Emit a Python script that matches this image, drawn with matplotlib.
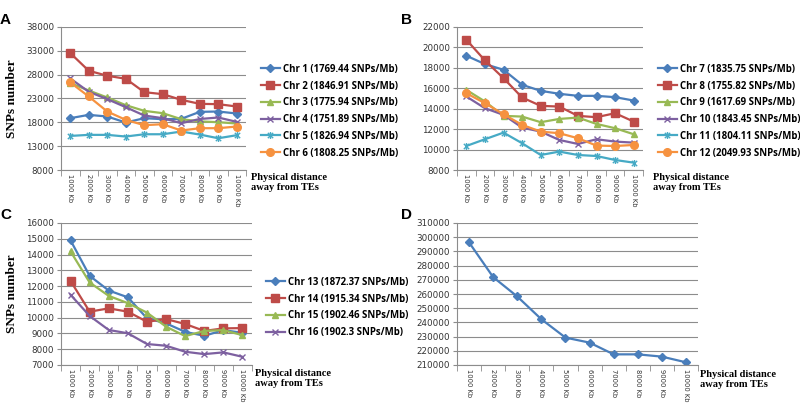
import matplotlib
matplotlib.use("Agg")
from matplotlib import pyplot as plt
from matplotlib.path import Path

# x categories
dist = ["1000 Kb", "2000 Kb", "3000 Kb", "4000 Kb", "5000 Kb",
        "6000 Kb", "7000 Kb", "8000 Kb", "9000 Kb", "10000 Kb"]

# panel A
chr1 = [18870, 19570, 19220, 17960, 18870, 18660, 18730, 20200, 20270, 19850]
chr2 = [32530, 28820, 27770, 27140, 24330, 23910, 22720, 21880, 21810, 21320]
chr3 = [26230, 24680, 23210, 21600, 20410, 19920, 18660, 18200, 18030, 17750]
chr4 = [27210, 24410, 22870, 21180, 19430, 18870, 17820, 18700, 19010, 18100]
chr5 = [15150, 15370, 15370, 15020, 15500, 15500, 16070, 15440, 14660, 15300]
chr6 = [26370, 23420, 20270, 18520, 17400, 17610, 16280, 16770, 16770, 17120]
# panel B
chr7 = [19190, 18370, 17810, 16340, 15750, 15460, 15260, 15260, 15130, 14800]
chr8 = [20760, 18730, 16990, 15100, 14280, 14210, 13300, 13170, 13560, 12740]
chr9 = [15850, 14710, 13300, 13230, 12680, 13000, 13130, 12510, 12090, 11500]
chr10 = [15200, 14050, 13400, 12150, 11760, 10940, 10550, 11010, 10780, 10680]
chr11 = [10350, 11010, 11660, 10620, 9470, 9800, 9470, 9370, 8980, 8720]
chr12 = [15520, 14540, 13460, 12420, 11760, 11600, 11110, 10390, 10350, 10450]
# panel C
chr13 = [14900, 12650, 11720, 11290, 9960, 9640, 9100, 8850, 9210, 9040]
chr14 = [12330, 10380, 10590, 10380, 9740, 9910, 9600, 9160, 9320, 9340]
chr15 = [14200, 12230, 11380, 10920, 10320, 9430, 8830, 9160, 9210, 8890]
chr16 = [11450, 10110, 9220, 9010, 8330, 8220, 7840, 7690, 7800, 7520]
# panel D
total = [296350, 271900, 258240, 242240, 229300, 225760, 217500, 217500, 215900, 211900]

labels_a = ["Chr 1 (1769.44 SNPs/Mb)", "Chr 2 (1846.91 SNPs/Mb)", "Chr 3 (1775.94 SNPs/Mb)",
            "Chr 4 (1751.89 SNPs/Mb)", "Chr 5 (1826.94 SNPs/Mb)", "Chr 6 (1808.25 SNPs/Mb)"]
labels_b = ["Chr 7 (1835.75 SNPs/Mb)", "Chr 8 (1755.82 SNPs/Mb)", "Chr 9 (1617.69 SNPs/Mb)",
            "Chr 10 (1843.45 SNPs/Mb)", "Chr 11 (1804.11 SNPs/Mb)", "Chr 12 (2049.93 SNPs/Mb)"]
labels_c = ["Chr 13 (1872.37 SNPs/Mb)", "Chr 14 (1915.34 SNPs/Mb)",
            "Chr 15 (1902.46 SNPs/Mb)", "Chr 16 (1902.3 SNPs/Mb)"]

# excel style star marker
star = Path([(-1, -1), (1, 1), (-1, 1), (1, -1), (0, -1.3), (0, 1.3)],
            [Path.MOVETO, Path.LINETO, Path.MOVETO, Path.LINETO, Path.MOVETO, Path.LINETO])

styles = [("#4A7EBB", "D", 4), ("#BE4B48", "s", 5.5), ("#98B954", "^", 5),
          ("#7D60A0", "x", 5), ("#46AAC5", star, 5), ("#F69240", "o", 5.5)]

W, H = 800, 403
fig = plt.figure(figsize=(8, 4.03), dpi=100)


def box(l, t, r, b):
    return [l / W, (H - b) / H, (r - l) / W, (b - t) / H]


def setup(ax, lo, hi, step):
    x = list(range(len(dist)))
    ax.set_xlim(-0.5, len(dist) - 0.5)
    ax.set_ylim(lo, hi)
    ax.set_yticks(range(lo, hi + 1, step))
    ax.grid(axis="y", color="#8c8c8c", lw=0.8)
    ax.set_axisbelow(True)
    for s in ["top", "right"]:
        ax.spines[s].set_visible(False)
    for s in ["left", "bottom"]:
        ax.spines[s].set_color("#8c8c8c")
    ax.set_xticks(x)
    ax.set_xticklabels(dist, rotation=270, fontsize=4.9, color="#333333")
    ax.set_xticks([i + 0.5 for i in range(-1, len(dist))], minor=True)
    ax.tick_params(axis="x", which="major", length=0, pad=3)
    ax.tick_params(axis="x", which="minor", length=4, color="#8c8c8c")
    ax.tick_params(axis="y", length=3, color="#8c8c8c", labelsize=6.3, labelcolor="#333333", pad=2)


def physical(x, y):
    fig.text(x / W, 1 - y / H, "Physical distance\naway from TEs", family="Liberation Serif",
             weight="bold", fontsize=7.5, va="top", ha="left", linespacing=1.1)


def series(ax, data, labels, start=0):
    for i, (vals, lab) in enumerate(zip(data, labels)):
        c, m, ms = styles[i]
        ax.plot(range(len(dist)), vals, color=c, lw=1.6, marker=m, ms=ms,
                mec=c, mfc=c, mew=1.0, label=lab)


def legend(ax, x, y):
    ax.legend(loc="upper left", bbox_to_anchor=(x / W, 1 - y / H), bbox_transform=fig.transFigure,
              frameon=False, handlelength=2.0, handletextpad=0.3, labelspacing=0.6, borderaxespad=0,
              prop={"family": "Open Sans", "weight": "bold", "size": 6.9})


# A
axa = fig.add_axes(box(61, 27, 246, 170))
setup(axa, 8000, 38000, 5000)
series(axa, [chr1, chr2, chr3, chr4, chr5, chr6], labels_a)
legend(axa, 257, 60)
physical(251, 173)

# B
axb = fig.add_axes(box(457, 27, 643, 170))
setup(axb, 8000, 22000, 2000)
series(axb, [chr7, chr8, chr9, chr10, chr11, chr12], labels_b)
legend(axb, 654, 60)
physical(653, 173)

# C
axc = fig.add_axes(box(61, 223, 252, 365))
setup(axc, 7000, 16000, 1000)
series(axc, [chr13, chr14, chr15, chr16], labels_c)
legend(axc, 262, 273)
physical(255, 369)

# D
axd = fig.add_axes(box(457, 223, 698, 365))
setup(axd, 210000, 310000, 10000)
axd.plot(range(len(dist)), total, color="#4A7EBB", lw=1.6, marker="D", ms=4.5)
physical(700, 370)

for ax in [axa, axc]:
    ax.set_ylabel("SNPs number", family="Liberation Serif", weight="bold", fontsize=9.5, labelpad=6)

for lab, x, y in [("A", 0, 13), ("B", 401, 13), ("C", 0, 208), ("D", 401, 208)]:
    fig.text(x / W, 1 - y / H, lab, family="Liberation Sans", weight="bold", fontsize=11, va="top")

fig.savefig("out.png", dpi=100)
